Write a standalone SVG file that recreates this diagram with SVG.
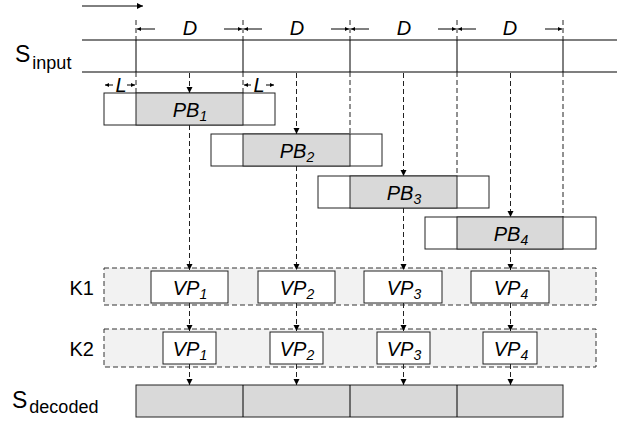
<svg xmlns="http://www.w3.org/2000/svg" width="630" height="424" viewBox="0 0 630 424">
<defs>
<marker id="ah" markerUnits="userSpaceOnUse" markerWidth="7" markerHeight="7" refX="6" refY="3" orient="auto"><path d="M0,0 L6,3 L0,6 z" fill="#000"/></marker>
<marker id="ahs" markerUnits="userSpaceOnUse" markerWidth="5" markerHeight="5" refX="4" refY="2" orient="auto"><path d="M0,0 L4,2 L0,4 z" fill="#000"/></marker>
<style>
text{font-family:"Liberation Sans",Arial,sans-serif;fill:#000}
.it{font-style:italic;font-size:20px}
.sub{font-size:14px}
.lab{font-size:20px}
.box{stroke:#222;stroke-width:1;fill:#fff}
.gray{stroke:#222;stroke-width:1;fill:#d9d9d9}
.cont{stroke:#333;stroke-width:1;stroke-dasharray:5 3;fill:#f2f2f2}
.dash{stroke:#222;stroke-width:1;stroke-dasharray:5 3;fill:none}
.da{stroke:#222;stroke-width:1;stroke-dasharray:5 3;fill:none;marker-end:url(#ah)}
.solid{stroke:#000;stroke-width:1;fill:none}
.rail{stroke:#7f7f7f;stroke-width:2;fill:none}
.dim{stroke:#000;stroke-width:1;fill:none;marker-end:url(#ahs)}
</style>
</defs>
<rect width="630" height="424" fill="#fff"/>

<g id="time-arrow">
<line x1="82" y1="6" x2="143" y2="6" stroke="#000" stroke-width="1" marker-end="url(#ah)"/>
</g>

<g id="S_input">
<line class="rail" x1="82" y1="40" x2="617" y2="40"/>
<line class="rail" x1="82" y1="72" x2="617" y2="72"/>
<line class="solid" x1="136" y1="40" x2="136" y2="72"/>
<line class="solid" x1="243" y1="40" x2="243" y2="72"/>
<line class="solid" x1="350" y1="40" x2="350" y2="72"/>
<line class="solid" x1="457" y1="40" x2="457" y2="72"/>
<line class="solid" x1="563" y1="40" x2="563" y2="72"/>
<text x="15" y="62" font-size="23">S<tspan font-size="18" dx="2" dy="7">input</tspan></text>
</g>

<g id="dimensions">
<line class="dim" x1="155" y1="29" x2="137" y2="29"/>
<line class="dim" x1="224" y1="29" x2="242" y2="29"/>
<line class="dim" x1="262" y1="29" x2="244" y2="29"/>
<line class="dim" x1="331" y1="29" x2="349" y2="29"/>
<line class="dim" x1="369" y1="29" x2="351" y2="29"/>
<line class="dim" x1="438" y1="29" x2="456" y2="29"/>
<line class="dim" x1="476" y1="29" x2="458" y2="29"/>
<line class="dim" x1="545" y1="29" x2="562" y2="29"/>
<text class="it" x="190" y="35" text-anchor="middle">D</text>
<text class="it" x="297" y="35" text-anchor="middle">D</text>
<text class="it" x="404" y="35" text-anchor="middle">D</text>
<text class="it" x="510" y="35" text-anchor="middle">D</text>
<line class="dim" x1="113" y1="85" x2="105" y2="85"/>
<line class="dim" x1="127" y1="85" x2="135" y2="85"/>
<line class="dim" x1="251" y1="85" x2="244" y2="85"/>
<line class="dim" x1="266" y1="85" x2="274" y2="85"/>
<text class="it" x="121" y="92" text-anchor="middle" font-size="19">L</text>
<text class="it" x="259" y="92" text-anchor="middle" font-size="19">L</text>
</g>

<g id="PB1">
<rect class="box" x="104" y="93" width="171" height="32"/>
<rect class="gray" x="136" y="93" width="107" height="32"/>
<text class="it" x="190" y="117" text-anchor="middle">PB<tspan class="sub" dy="4">1</tspan></text>
</g>
<g id="PB2">
<rect class="box" x="211" y="134" width="171" height="32"/>
<rect class="gray" x="243" y="134" width="107" height="32"/>
<text class="it" x="297" y="158" text-anchor="middle">PB<tspan class="sub" dy="4">2</tspan></text>
</g>
<g id="PB3">
<rect class="box" x="318" y="176" width="171" height="32"/>
<rect class="gray" x="350" y="176" width="107" height="32"/>
<text class="it" x="404" y="200" text-anchor="middle">PB<tspan class="sub" dy="4">3</tspan></text>
</g>
<g id="PB4">
<rect class="box" x="425" y="217" width="171" height="32"/>
<rect class="gray" x="457" y="217" width="106" height="32"/>
<text class="it" x="511" y="241" text-anchor="middle">PB<tspan class="sub" dy="4">4</tspan></text>
</g>

<g id="K1">
<rect class="cont" x="104" y="268" width="492" height="37"/>
<text class="lab" x="94" y="295" text-anchor="end">K1</text>
</g>
<g id="K1-VP1"><rect class="box" x="151" y="271" width="77" height="32"/><text class="it" x="190" y="295" text-anchor="middle">VP<tspan class="sub" dy="4">1</tspan></text></g>
<g id="K1-VP2"><rect class="box" x="258" y="271" width="77" height="32"/><text class="it" x="297" y="295" text-anchor="middle">VP<tspan class="sub" dy="4">2</tspan></text></g>
<g id="K1-VP3"><rect class="box" x="364" y="271" width="78" height="32"/><text class="it" x="404" y="295" text-anchor="middle">VP<tspan class="sub" dy="4">3</tspan></text></g>
<g id="K1-VP4"><rect class="box" x="471" y="271" width="78" height="32"/><text class="it" x="511" y="295" text-anchor="middle">VP<tspan class="sub" dy="4">4</tspan></text></g>

<g id="K2">
<rect class="cont" x="104" y="329" width="492" height="38"/>
<text class="lab" x="94" y="356" text-anchor="end">K2</text>
</g>
<g id="K2-VP1"><rect class="box" x="163" y="332" width="53" height="32"/><text class="it" x="190" y="356" text-anchor="middle">VP<tspan class="sub" dy="4">1</tspan></text></g>
<g id="K2-VP2"><rect class="box" x="270" y="332" width="53" height="32"/><text class="it" x="297" y="356" text-anchor="middle">VP<tspan class="sub" dy="4">2</tspan></text></g>
<g id="K2-VP3"><rect class="box" x="377" y="332" width="53" height="32"/><text class="it" x="404" y="356" text-anchor="middle">VP<tspan class="sub" dy="4">3</tspan></text></g>
<g id="K2-VP4"><rect class="box" x="483" y="332" width="54" height="32"/><text class="it" x="511" y="356" text-anchor="middle">VP<tspan class="sub" dy="4">4</tspan></text></g>

<g id="S_decoded">
<rect class="gray" x="136" y="385" width="427" height="32"/>
<line class="solid" x1="243" y1="385" x2="243" y2="417"/>
<line class="solid" x1="350" y1="385" x2="350" y2="417"/>
<line class="solid" x1="457" y1="385" x2="457" y2="417"/>
<text x="12" y="408" font-size="23">S<tspan font-size="18" dx="2" dy="5">decoded</tspan></text>
</g>

<g id="connectors">
<line class="dash" x1="136" y1="20" x2="136" y2="40"/>
<line class="dash" x1="243" y1="20" x2="243" y2="40"/>
<line class="dash" x1="350" y1="20" x2="350" y2="40"/>
<line class="dash" x1="457" y1="20" x2="457" y2="40"/>
<line class="dash" x1="563" y1="20" x2="563" y2="40"/>
<line class="dash" x1="136" y1="72" x2="136" y2="93"/>
<line class="dash" x1="243" y1="72" x2="243" y2="93"/>
<line class="dash" x1="350" y1="72" x2="350" y2="134"/>
<line class="dash" x1="457" y1="72" x2="457" y2="176"/>
<line class="dash" x1="563" y1="72" x2="563" y2="217"/>
<line class="da" x1="189.5" y1="73" x2="189.5" y2="93"/>
<line class="da" x1="296.5" y1="73" x2="296.5" y2="134"/>
<line class="da" x1="403.5" y1="73" x2="403.5" y2="176"/>
<line class="da" x1="510.5" y1="73" x2="510.5" y2="217"/>
<line class="da" x1="189.5" y1="125" x2="189.5" y2="270"/>
<line class="da" x1="296.5" y1="166" x2="296.5" y2="270"/>
<line class="da" x1="403.5" y1="208" x2="403.5" y2="270"/>
<line class="da" x1="510.5" y1="249" x2="510.5" y2="270"/>
<line class="da" x1="189.5" y1="303" x2="189.5" y2="331"/>
<line class="da" x1="296.5" y1="303" x2="296.5" y2="331"/>
<line class="da" x1="403.5" y1="303" x2="403.5" y2="331"/>
<line class="da" x1="510.5" y1="303" x2="510.5" y2="331"/>
<line class="da" x1="189.5" y1="364" x2="189.5" y2="385"/>
<line class="da" x1="296.5" y1="364" x2="296.5" y2="385"/>
<line class="da" x1="403.5" y1="364" x2="403.5" y2="385"/>
<line class="da" x1="510.5" y1="364" x2="510.5" y2="385"/>
</g>
</svg>
